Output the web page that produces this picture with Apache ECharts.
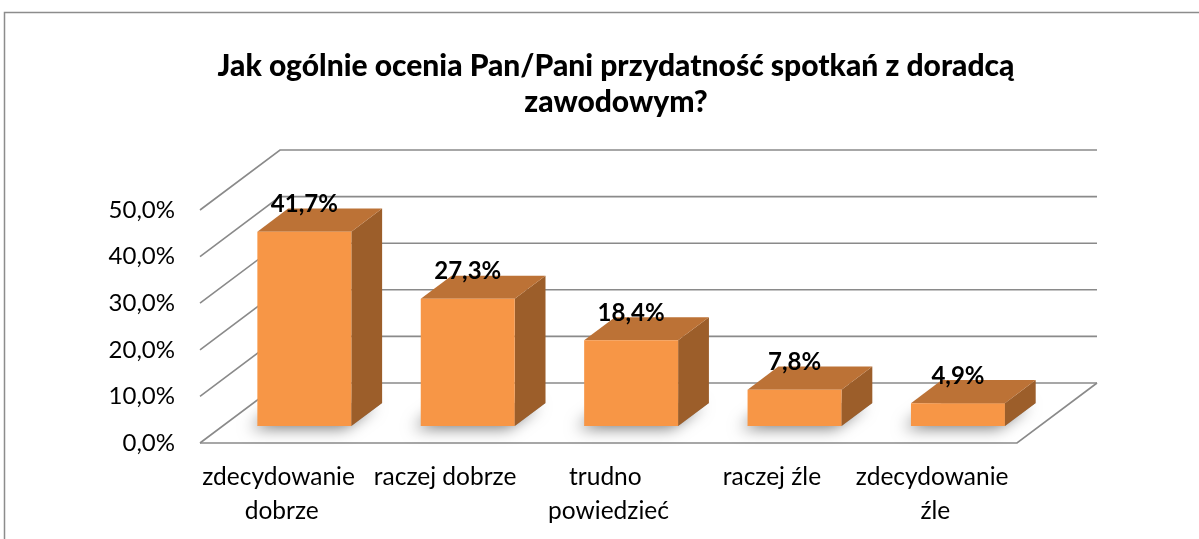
<!DOCTYPE html>
<html>
<head>
<meta charset="utf-8">
<title>Przydatność spotkań z doradcą zawodowym</title>
<script src="https://cdn.jsdelivr.net/npm/echarts@6/dist/echarts.min.js"></script>
<style>
  html, body { margin: 0; padding: 0; background: #ffffff; }
  #chart { width: 1199px; height: 539px; }
</style>
</head>
<body>
<div id="chart"></div>
<script>
// Survey answers and their shares (percent)
const categories = ['zdecydowanie dobrze', 'raczej dobrze', 'trudno powiedzieć', 'raczej źle', 'zdecydowanie źle'];
const shares = [41.7, 27.3, 18.4, 7.8, 4.9];
const yTicks = [0, 10, 20, 30, 40, 50];
const titleText = 'Jak ogólnie ocenia Pan/Pani przydatność spotkań z doradcą\nzawodowym?';

// Oblique projection of the floor depth (front edge -> back wall)
const DX = 80, DY = -60;
const D_FRONT = 0.283;   // bar front face position within the depth
const D_DEPTH = 0.385;   // bar thickness within the depth
const BAR_RATIO = 0.575; // bar width relative to the category band

const FRONT = '#F79646', TOP = '#BC7236', SIDE = '#9C5E2A';
const GRID_LINE = '#8a8a8a';
const FONT = 'Lato, "Open Sans", sans-serif';

const pct = v => v.toFixed(1).replace('.', ',') + '%';

const chart = echarts.init(document.getElementById('chart'), null, { renderer: 'canvas' });

const option = {
  backgroundColor: '#ffffff',
  animation: false,
  title: {
    text: titleText,
    left: 611,
    top: 43,
    textAlign: 'center',
    textStyle: { fontFamily: FONT, fontWeight: 900, fontSize: 30, lineHeight: 36, color: '#000' }
  },
  graphic: [{
    type: 'rect',
    shape: { x: 4.5, y: 12.5, width: 1400, height: 700 },
    style: { fill: 'none', stroke: '#8c8c8c', lineWidth: 1.5 },
    silent: true
  }],
  grid: { left: 200, right: 182, top: 210, bottom: 96 },
  xAxis: {
    type: 'category',
    data: categories,
    axisLine: { show: false },
    axisTick: { show: false },
    axisLabel: {
      interval: 0,
      margin: 17,
      fontFamily: FONT,
      fontSize: 24.5,
      lineHeight: 34,
      color: '#000',
      width: 160,
      overflow: 'break'
    },
    splitLine: { show: false }
  },
  yAxis: {
    type: 'value',
    min: 0,
    max: 50,
    interval: 10,
    axisLine: { show: false },
    axisTick: { show: false },
    splitLine: { show: false },
    axisLabel: {
      margin: 25,
      fontFamily: FONT,
      fontSize: 24,
      color: '#000',
      formatter: v => pct(v)
    }
  },
  series: [
    {
      // side wall diagonals, back wall gridlines and floor outline
      type: 'custom',
      z: 1,
      silent: true,
      data: yTicks.map(v => [0, v]),
      renderItem(params, api) {
        const cs = params.coordSys;
        const v = api.value(1);
        const y = api.coord([0, v])[1];
        const x0 = cs.x, x1 = cs.x + cs.width;
        const lineStyle = { stroke: GRID_LINE, lineWidth: 1.6, fill: 'none' };
        const children = [{
          type: 'polyline',
          shape: { points: [[x0, y], [x0 + DX, y + DY], [x1 + DX, y + DY]] },
          style: lineStyle
        }];
        if (v === 0) {
          children.push({
            type: 'polyline',
            shape: { points: [[x0, y], [x1, y], [x1 + DX, y + DY]] },
            style: lineStyle
          });
        }
        return { type: 'group', children };
      }
    },
    {
      // 3D boxes
      type: 'custom',
      z: 2,
      data: shares.map((v, i) => [i, v]),
      renderItem(params, api) {
        const idx = api.value(0), v = api.value(1);
        const base = api.coord([idx, 0]);
        const top = api.coord([idx, v]);
        const band = api.size([1, 0])[0];
        const w = band * BAR_RATIO;
        const fx = base[0] + DX * D_FRONT - w / 2;
        const fy0 = base[1] + DY * D_FRONT;
        const fy1 = top[1] + DY * D_FRONT;
        const ddx = DX * D_DEPTH, ddy = DY * D_DEPTH;
        return {
          type: 'group',
          children: [
            {
              type: 'polygon',
              shape: { points: [[fx, fy0], [fx + w, fy0], [fx + w + ddx, fy0 + ddy], [fx + ddx, fy0 + ddy]] },
              style: {
                fill: '#9a9a9a',
                shadowBlur: 16,
                shadowColor: 'rgba(0,0,0,0.55)',
                shadowOffsetX: -7,
                shadowOffsetY: 2
              }
            },
            {
              type: 'polygon',
              shape: { points: [[fx + w, fy0], [fx + w + ddx, fy0 + ddy], [fx + w + ddx, fy1 + ddy], [fx + w, fy1]] },
              style: { fill: SIDE }
            },
            {
              type: 'polygon',
              shape: { points: [[fx, fy1], [fx + w, fy1], [fx + w + ddx, fy1 + ddy], [fx + ddx, fy1 + ddy]] },
              style: { fill: TOP }
            },
            {
              type: 'rect',
              shape: { x: fx, y: fy1, width: w, height: fy0 - fy1 },
              style: { fill: FRONT }
            },
            {
              type: 'text',
              style: {
                x: fx + w / 2,
                y: fy1 + ddy - 4,
                text: pct(v),
                align: 'center',
                verticalAlign: 'middle',
                fontFamily: FONT,
                fontWeight: 'bold',
                fontSize: 24,
                fill: '#000'
              }
            }
          ]
        };
      }
    }
  ]
};

chart.setOption(option);
</script>
</body>
</html>
